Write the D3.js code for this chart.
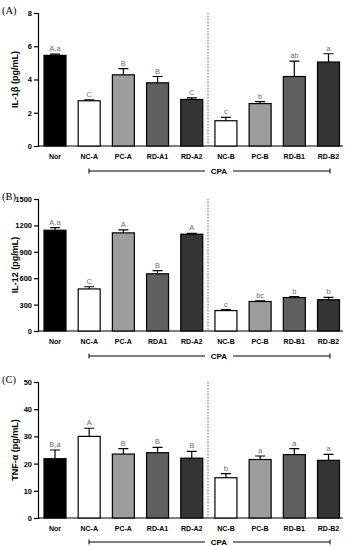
<!DOCTYPE html>
<html>
<head>
<meta charset="utf-8">
<script src="https://d3js.org/d3.v7.min.js"></script>
<style>
  body { margin: 0; background: #fff; }
  text { font-family: "Liberation Sans", Arial, sans-serif; }
</style>
</head>
<body>
<script>
// groups and data
const groupsA = ["Nor", "NC-A", "PC-A", "RD-A1", "RD-A2", "NC-B", "PC-B", "RD-B1", "RD-B2"];
const groupsB = ["Nor", "NC-A", "PC-A", "RDA1", "RD-A2", "NC-B", "PC-B", "RD-B1", "RD-B2"];
const fills = ["#000000", "#ffffff", "#9d9d9d", "#5f5f5f", "#343434", "#ffffff", "#9d9d9d", "#5f5f5f", "#343434"];

const il1bMean = [5.45, 2.72, 4.28, 3.8, 2.8, 1.52, 2.55, 4.18, 5.05];
const il1bErr = [0.08, 0.05, 0.38, 0.38, 0.1, 0.2, 0.12, 0.92, 0.5];
const il1bLetters = ["A,a", "C", "B", "B", "C", "c", "b", "ab", "a"];

const il12Mean = [1145, 478, 1115, 650, 1100, 232, 335, 380, 355];
const il12Err = [30, 25, 35, 35, 10, 10, 8, 10, 28];
const il12Letters = ["A,a", "C", "A", "B", "A", "c", "bc", "b", "b"];

const tnfMean = [21.8, 30, 23.5, 24, 22, 14.8, 21.5, 23.3, 21.2];
const tnfErr = [3.2, 3, 2, 2, 2.5, 1.5, 1.3, 2.2, 2.2];
const tnfLetters = ["B,a", "A", "B", "B", "B", "b", "a", "a", "a"];

const width = 347, height = 546;
const svg = d3.select("body").append("svg")
    .attr("width", width)
    .attr("height", height);

const x0 = 38, x1 = 343;

function panel(opts) {
  const g = svg.append("g");
  const y = d3.scaleLinear().domain([0, opts.max]).range([opts.bottom, opts.top]);
  const x = d3.scalePoint().domain(d3.range(opts.groups.length)).range([55, 328.5]);
  const bw = 22;

  // panel tag
  g.append("text").attr("x", 2).attr("y", opts.top + 1)
    .style("font-family", "'Liberation Serif', serif").style("font-size", "10.5px")
    .text(opts.tag);

  // y axis
  const ay = g.append("g").attr("transform", `translate(${x0},0)`)
    .call(d3.axisLeft(y).tickValues(opts.ticks).tickFormat(d3.format("d")).tickSize(4).tickPadding(2));
  ay.select(".domain").attr("stroke", "#000").attr("stroke-width", 1.2);
  ay.selectAll(".tick line").attr("stroke-width", 1.2);
  ay.selectAll("text").style("font-size", "7.5px").style("font-weight", "bold")
    .style("font-family", "'Liberation Sans', Arial, sans-serif");

  // x axis line
  g.append("line").attr("x1", x0).attr("x2", x1)
    .attr("y1", opts.bottom).attr("y2", opts.bottom)
    .attr("stroke", "#000").attr("stroke-width", 1.2);

  // y label
  g.append("text")
    .attr("transform", `translate(16,${(opts.top + opts.bottom) / 2}) rotate(-90)`)
    .attr("text-anchor", "middle").attr("dominant-baseline", "middle")
    .style("font-size", "9px").style("font-weight", "bold")
    .text(opts.label);

  // dashed separator
  g.append("line").attr("x1", 208).attr("x2", 208)
    .attr("y1", opts.top).attr("y2", opts.bottom)
    .attr("stroke", "#666").attr("stroke-width", 1).attr("stroke-dasharray", "1.5,1.5");

  const idx = d3.range(opts.groups.length);

  // error bars (upper only)
  g.selectAll(".err").data(idx).enter().append("path")
    .attr("d", i => {
      const cx = x(i), yt = y(opts.mean[i] + opts.err[i]), yb = y(opts.mean[i]);
      return `M${cx},${yb}V${yt}M${cx - 5},${yt}H${cx + 5}`;
    })
    .attr("stroke", "#000").attr("stroke-width", 1.2).attr("fill", "none");

  // bars
  g.selectAll(".bar").data(idx).enter().append("rect")
    .attr("x", i => x(i) - bw / 2).attr("width", bw)
    .attr("y", i => y(opts.mean[i]))
    .attr("height", i => opts.bottom - y(opts.mean[i]))
    .attr("fill", i => fills[i]).attr("stroke", "#000").attr("stroke-width", 1.2);

  // letters
  g.selectAll(".let").data(idx).enter().append("text")
    .attr("x", i => x(i)).attr("y", i => y(opts.mean[i] + opts.err[i]) - 3)
    .attr("text-anchor", "middle").style("font-size", "7.5px").attr("fill", "#6e6e6e")
    .text(i => opts.letters[i]);

  // x labels
  g.selectAll(".xl").data(idx).enter().append("text")
    .attr("x", i => x(i)).attr("y", opts.bottom + 13)
    .attr("text-anchor", "middle").style("font-size", "7px").style("font-weight", "bold")
    .text(i => opts.groups[i]);

  // CPA bracket
  const by = opts.bracket;
  g.append("path")
    .attr("d", `M89,${by - 2.5}V${by + 2.5}M89,${by}H205M233,${by}H330M330,${by - 2.5}V${by + 2.5}`)
    .attr("stroke", "#000").attr("stroke-width", 1).attr("fill", "none");
  g.append("text").attr("x", 219).attr("y", by + 3)
    .attr("text-anchor", "middle").style("font-size", "8px").style("font-weight", "bold")
    .text("CPA");
}

panel({ tag: "(A)", top: 13, bottom: 146, max: 8, ticks: [0, 2, 4, 6, 8],
  label: "IL-1β (pg/mL)", groups: groupsA, mean: il1bMean, err: il1bErr,
  letters: il1bLetters, bracket: 171 });

panel({ tag: "(B)", top: 199, bottom: 331, max: 1500, ticks: [0, 300, 600, 900, 1200, 1500],
  label: "IL-12 (pg/mL)", groups: groupsB, mean: il12Mean, err: il12Err,
  letters: il12Letters, bracket: 356 });

panel({ tag: "(C)", top: 382, bottom: 518, max: 50, ticks: [0, 10, 20, 30, 40, 50],
  label: "TNF-α (pg/mL)", groups: groupsA, mean: tnfMean, err: tnfErr,
  letters: tnfLetters, bracket: 542 });
</script>
</body>
</html>
